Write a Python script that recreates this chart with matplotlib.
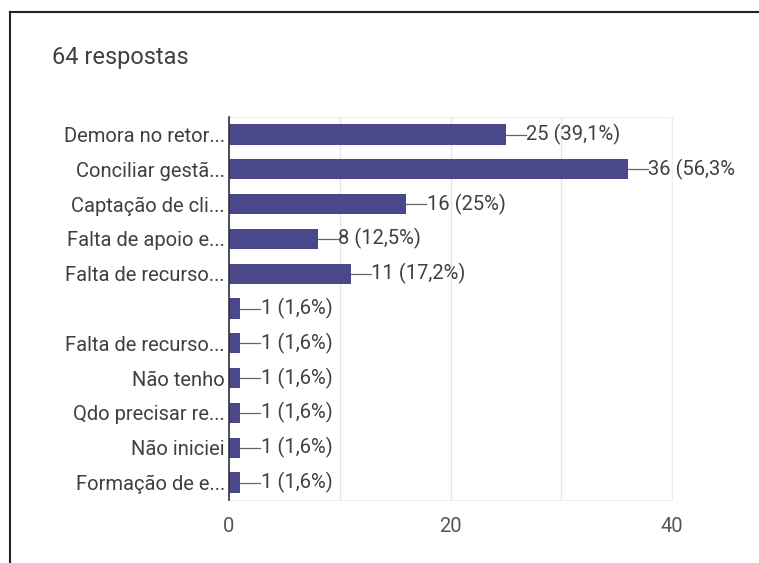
import matplotlib.pyplot as plt
import matplotlib.lines as mlines

plt.rcParams['font.family'] = ['Roboto', 'DejaVu Sans']

labels = ['Demora no retor...', 'Conciliar gestã...', 'Captação de cli...',
          'Falta de apoio e...', 'Falta de recurso...', '',
          'Falta de recurso...', 'Não tenho', 'Qdo precisar re...',
          'Não iniciei', 'Formação de e...']
counts = [25, 36, 16, 8, 11, 1, 1, 1, 1, 1, 1]
value_text = ['25 (39,1%)', '36 (56,3%', '16 (25%)', '8 (12,5%)', '11 (17,2%)',
              '1 (1,6%)', '1 (1,6%)', '1 (1,6%)', '1 (1,6%)', '1 (1,6%)', '1 (1,6%)']
xticks = [0, 20, 40]

bar_color = '#4a4889'
text_color = '#404040'

fig = plt.figure(figsize=(7.59, 5.63), dpi=100)
ax = fig.add_axes([0.3017, 0.112, 0.5837, 0.68])

y = list(range(len(labels)))
ax.barh(y, counts, height=0.58, color=bar_color, zorder=3)

for yi, c, t in zip(y, counts, value_text):
    ax.plot([c, c + 1.8], [yi, yi], color='#666666', lw=0.9, zorder=3, clip_on=False)
    ax.text(c + 1.85, yi, t, va='center', ha='left', fontsize=14.5,
            color=text_color, clip_on=False)

ax.set_xlim(0, 40)
ax.set_ylim(len(labels) - 0.5, -0.5)
ax.set_yticks(y)
ax.set_yticklabels(labels, fontsize=14.5, color=text_color)
ax.set_xticks(xticks)
ax.set_xticklabels([str(v) for v in xticks], fontsize=14.5, color='#555555')
ax.set_xticks([10, 30], minor=True)
ax.tick_params(axis='both', which='both', length=0)
ax.tick_params(axis='x', pad=12)
ax.tick_params(axis='y', pad=3)
ax.grid(axis='x', which='both', color='#e6e6e6', lw=1, zorder=0)

for side in ['top', 'right', 'bottom']:
    ax.spines[side].set_color('#eeeeee')
ax.spines['left'].set_color('#333333')
ax.spines['left'].set_linewidth(1.2)
ax.spines['left'].set_zorder(4)

fig.text(0.069, 0.898, '64 respostas', fontsize=17, color=text_color,
         ha='left', va='center')

# outer frame (top and left edges only)
fig.add_artist(mlines.Line2D([0.0135, 1.0], [0.979, 0.979], color='#222222', lw=1.5))
fig.add_artist(mlines.Line2D([0.0135, 0.0135], [0.0, 0.979], color='#222222', lw=1.5))

fig.savefig('out.png', dpi=100)
